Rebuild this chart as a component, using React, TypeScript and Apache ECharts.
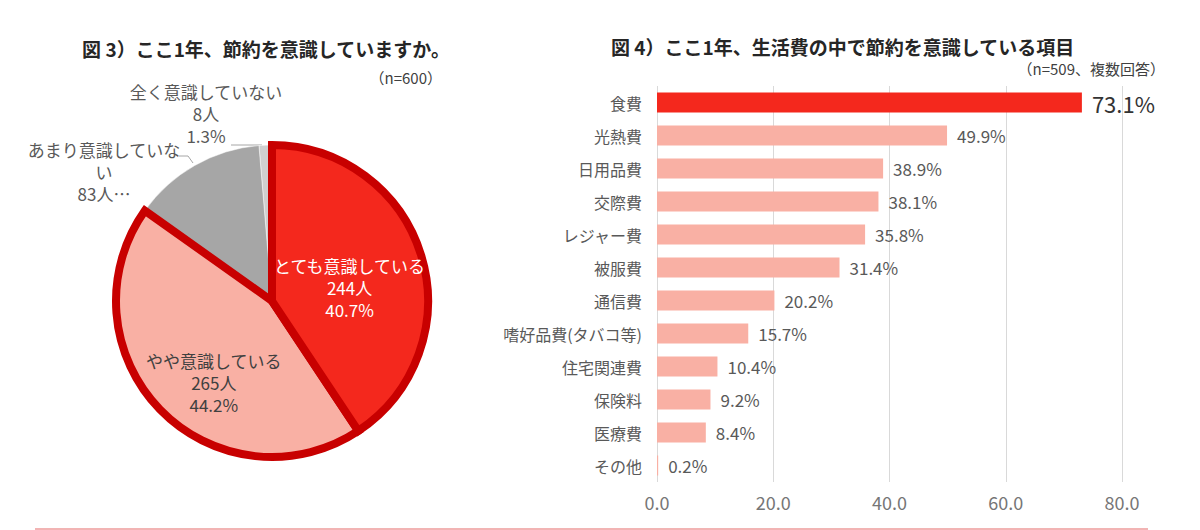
import React, { useEffect, useRef } from "react";
import * as echarts from "echarts";

const pieNames = ["全く意識していない", "あまり意識していない", "やや意識している", "とても意識している"];
const pieCounts = [8, 83, 265, 244];
const pieShares = ["1.3%", "13.8%", "44.2%", "40.7%"];
const pieLabels = [
  "全く意識していない\n8人\n1.3%",
  "あまり意識していな\nい\n83人…",
  "やや意識している\n265人\n44.2%",
  "とても意識している\n244人\n40.7%",
];
const pieColors = ["#D0CFCF", "#A6A6A6", "#F9B0A4", "#F4281D"];

const barCategories = [
  "食費", "光熱費", "日用品費", "交際費", "レジャー費", "被服費",
  "通信費", "嗜好品費(タバコ等)", "住宅関連費", "保険料", "医療費", "その他",
];
const barValues = [73.1, 49.9, 38.9, 38.1, 35.8, 31.4, 20.2, 15.7, 10.4, 9.2, 8.4, 0.2];

const FONT = "'Noto Sans CJK JP', 'Noto Sans', sans-serif";

export default function App() {
  const ref = useRef<HTMLDivElement>(null);
  useEffect(() => {
    if (!ref.current) return;
    const chart = echarts.init(ref.current, undefined, { renderer: "svg" });
    const pieData = pieNames.map((n, i) => {
      const main = i >= 2;
      return {
        name: n,
        value: pieCounts[i],
        itemStyle: {
          color: pieColors[i],
          borderColor: main ? "#C80000" : "#ffffff",
          borderWidth: main ? 8 : 0.5,
          borderJoin: "miter",
        },
        label: {
          position: main ? "inside" : "outside",
          color: i === 3 ? "#ffffff" : i === 2 ? "#404040" : "#595959",
        },
      };
    });
    const pieLabelPos: Record<number, any> = {
      0: { x: 206, y: 113, align: "center", verticalAlign: "middle" },
      1: { x: 104, y: 171, align: "center", verticalAlign: "middle" },
      2: { dy: 25 },
      3: { dy: 10 },
    };
    chart.setOption({
      animation: false,
      textStyle: { fontFamily: FONT },
      title: [
        {
          text: "図 3）ここ1年、節約を意識していますか。",
          left: 261, top: 34, textAlign: "center",
          textStyle: { fontSize: 19, fontWeight: "bold", color: "#262626", fontFamily: FONT },
        },
        {
          text: "図 4）ここ1年、生活費の中で節約を意識している項目",
          left: 606, top: 32,
          textStyle: { fontSize: 19, fontWeight: "bold", color: "#262626", fontFamily: FONT },
        },
      ],
      graphic: [
        { type: "text", x: 442, y: 77, style: { text: "（n=600）", fill: "#404040", font: `15px ${FONT}`, align: "right", verticalAlign: "middle" } },
        { type: "text", x: 1165, y: 68, style: { text: "（n=509、複数回答）", fill: "#404040", font: `15px ${FONT}`, align: "right", verticalAlign: "middle" } },
        { type: "polyline", shape: { points: [[231, 145], [262, 145]] }, style: { stroke: "#A6A6A6", lineWidth: 1, fill: null } },
        { type: "polyline", shape: { points: [[179, 156], [188, 156], [193, 163]] }, style: { stroke: "#A6A6A6", lineWidth: 1, fill: null } },
        { type: "line", shape: { x1: 35, y1: 529, x2: 1148, y2: 529 }, style: { stroke: "#F2B4B4", lineWidth: 2 } },
      ],
      grid: { left: 657, right: 78, top: 86, height: 396, containLabel: false },
      xAxis: {
        type: "value",
        min: 0, max: 80, interval: 20,
        axisLine: { show: false },
        axisTick: { show: false },
        splitLine: { lineStyle: { color: "#D9D9D9", width: 1 } },
        axisLabel: {
          formatter: (v: number) => v.toFixed(1),
          color: "#767676", fontSize: 18, margin: 11, fontFamily: FONT,
        },
      },
      yAxis: {
        type: "category",
        inverse: true,
        data: barCategories,
        axisLine: { show: false },
        axisTick: { show: false },
        axisLabel: { color: "#595959", fontSize: 16, margin: 15, fontFamily: FONT },
      },
      series: [
        {
          type: "pie",
          center: [272, 301],
          radius: 156,
          startAngle: 90,
          clockwise: false,
          data: pieData,
          label: {
            show: true,
            fontSize: 17,
            lineHeight: 22,
            fontFamily: FONT,
            overflow: "none",
            formatter: (p: any) => pieLabels[p.dataIndex],
          },
          labelLine: { show: false },
          labelLayout: (p: any) => pieLabelPos[p.dataIndex],
          emphasis: { disabled: true },
        },
        {
          type: "bar",
          data: barValues.map((v, i) => ({
            value: v,
            itemStyle: { color: i === 0 ? "#F4281D" : "#F9B0A4" },
            label: i === 0 ? { fontSize: 22, color: "#333333" } : {},
          })),
          barWidth: 20,
          label: {
            show: true,
            position: "right",
            distance: 10,
            formatter: (p: any) => p.value.toFixed(1) + "%",
            color: "#595959",
            fontSize: 17,
            fontFamily: FONT,
          },
          emphasis: { disabled: true },
        },
      ],
    });
    return () => chart.dispose();
  }, []);
  return (
    <div
      ref={ref}
      style={{ position: "fixed", left: 0, top: 0, width: 1200, height: 530, background: "#fff" }}
    />
  );
}
